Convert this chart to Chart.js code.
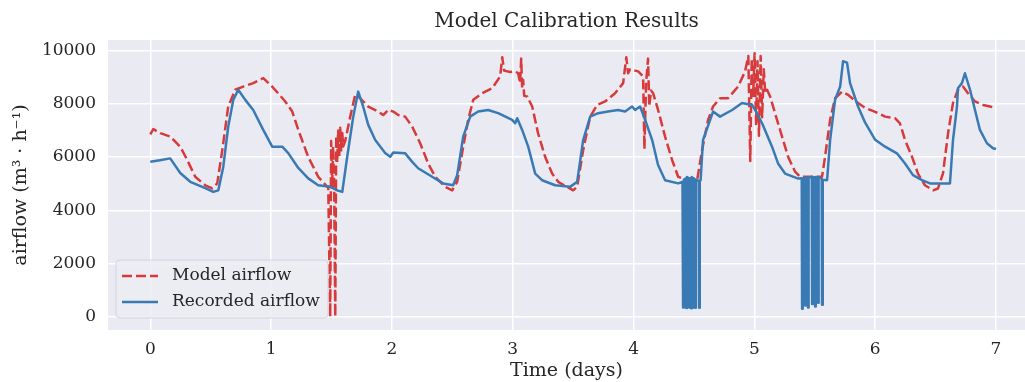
<!DOCTYPE html>
<html>
<head>
<meta charset="utf-8">
<script src="https://cdn.jsdelivr.net/npm/chart.js@4.4.0/dist/chart.umd.min.js"></script>
<style>
  html, body { margin: 0; padding: 0; background: #fff; overflow: hidden; }
  #wrap { width: 1025px; height: 382px; }
</style>
</head>
<body>
<div id="wrap"><canvas id="chart" width="1025" height="382"></canvas></div>
<script>
// ====== data (time in days, airflow in m3/h) ======
const modelTime = [
  0, 0.025, 0.083, 0.165, 0.248, 0.306, 0.372, 0.455, 0.513, 0.554, 0.596, 0.645, 0.703, 0.769, 0.852, 0.935, 1.009,
  1.117, 1.175, 1.225, 1.307, 1.390, 1.465, 1.473, 1.489, 1.497, 1.505, 1.513, 1.522, 1.531, 1.539, 1.547, 1.555,
  1.564, 1.572, 1.580, 1.589, 1.597, 1.613, 1.655, 1.696, 1.738, 1.804, 1.886, 1.928, 1.969, 2.011, 2.052, 2.110,
  2.168, 2.234, 2.300, 2.358, 2.441, 2.499, 2.540, 2.590, 2.631, 2.673, 2.747, 2.830, 2.896, 2.913, 2.929, 2.979,
  3.020, 3.045, 3.061, 3.070, 3.078, 3.086, 3.095, 3.119, 3.161, 3.210, 3.268, 3.326, 3.376, 3.450, 3.500, 3.533,
  3.583, 3.641, 3.699, 3.765, 3.847, 3.914, 3.940, 3.955, 3.972, 4.038, 4.079, 4.090, 4.104, 4.120, 4.130, 4.145,
  4.162, 4.203, 4.261, 4.319, 4.369, 4.443, 4.526, 4.567, 4.617, 4.658, 4.716, 4.782, 4.865, 4.923, 4.950, 4.966,
  4.978, 4.990, 5.002, 5.014, 5.026, 5.038, 5.052, 5.064, 5.078, 5.090, 5.105, 5.130, 5.171, 5.229, 5.279, 5.337,
  5.378, 5.560, 5.585, 5.627, 5.668, 5.726, 5.775, 5.858, 5.916, 6.000, 6.082, 6.164, 6.205, 6.247, 6.305, 6.354,
  6.412, 6.479, 6.520, 6.561, 6.603, 6.644, 6.685, 6.727, 6.768, 6.826, 6.892, 6.950, 7.000
];
const modelFlow = [
  6850, 7050, 6900, 6770, 6390, 5890, 5260, 4940, 4820, 5010, 6260, 7900, 8530, 8650, 8780, 8970, 8650,
  8090, 7710, 7020, 6010, 5260, 4880, 4900, 0, 6600, 4800, 6400, 5000, 0, 6800, 5800, 7000,
  6000, 7100, 6200, 6900, 6400, 6600, 7520, 8340, 8210, 7900, 7710, 7580, 7770, 7710, 7580, 7520,
  7140, 6520, 5760, 5260, 4880, 4750, 5070, 6390, 7400, 8150, 8400, 8590, 9030, 9750, 9250, 9200,
  9220, 9150, 8780, 9700, 8600, 8900, 8300, 8280, 7900, 6890, 6010, 5380, 5070, 4880, 4750, 4880,
  6260, 7520, 7960, 8090, 8400, 8780, 9750, 9150, 9300, 9220, 9030, 6300, 8800, 9700, 7900, 8500,
  8400, 7770, 6770, 5890, 5260, 5130, 5130, 6260, 7400, 7900, 8210, 8210, 8650, 9220, 9800, 5850,
  9700, 8300, 9900, 7200, 9600, 6800, 9800, 7500, 9300, 8400, 8530, 8280, 7650, 6770, 6010, 5450,
  5260, 5260, 6010, 7400, 8210, 8460, 8340, 8030, 7850, 7700, 7520, 7460, 7270, 6640, 6010, 5380,
  4940, 4750, 4820, 5380, 6890, 8030, 8530, 8650, 8400, 8090, 7960, 7900, 7840
];

const recordedTime = [
  0, 0.080, 0.165, 0.248, 0.331, 0.455, 0.521, 0.563, 0.604, 0.645, 0.687, 0.728, 0.786, 0.852, 0.935, 1.009,
  1.092, 1.142, 1.225, 1.307, 1.390, 1.489, 1.547, 1.589, 1.630, 1.680, 1.721, 1.762, 1.804, 1.862, 1.944, 1.986,
  2.011, 2.110, 2.168, 2.217, 2.333, 2.424, 2.507, 2.540, 2.590, 2.648, 2.714, 2.797, 2.879, 2.995, 3.020, 3.037,
  3.078, 3.128, 3.186, 3.243, 3.351, 3.475, 3.533, 3.583, 3.641, 3.707, 3.789, 3.872, 3.930, 3.988, 4.013, 4.054,
  4.096, 4.154, 4.203, 4.261, 4.369, 4.405, 4.410, 4.416, 4.433, 4.436, 4.442, 4.458, 4.461, 4.466, 4.474, 4.477,
  4.482, 4.491, 4.494, 4.499, 4.508, 4.511, 4.516, 4.540, 4.543, 4.548, 4.555, 4.575, 4.658, 4.716, 4.816, 4.898,
  4.981, 5.006, 5.064, 5.146, 5.196, 5.254, 5.362, 5.392, 5.395, 5.400, 5.417, 5.420, 5.425, 5.441, 5.444, 5.449,
  5.475, 5.478, 5.483, 5.500, 5.503, 5.508, 5.524, 5.527, 5.532, 5.557, 5.560, 5.566, 5.602, 5.627, 5.668, 5.710,
  5.734, 5.767, 5.792, 5.858, 5.916, 6.000, 6.082, 6.180, 6.247, 6.313, 6.388, 6.454, 6.619, 6.644, 6.677, 6.685,
  6.718, 6.743, 6.785, 6.826, 6.867, 6.925, 6.975, 7.000
];
const recordedFlow = [
  5820, 5880, 5950, 5400, 5070, 4830, 4690, 4750, 5630, 7140, 8150, 8530, 8150, 7770, 7020, 6390,
  6390, 6150, 5590, 5200, 4940, 4880, 4750, 4690, 6010, 7520, 8460, 7900, 7210, 6640, 6150, 6010,
  6170, 6140, 5820, 5580, 5260, 5010, 4940, 5320, 6770, 7520, 7710, 7770, 7650, 7400, 7270, 7460,
  7020, 6390, 5380, 5130, 4940, 4880, 5070, 6640, 7520, 7650, 7710, 7770, 7710, 7900, 7770, 7900,
  7400, 6640, 5700, 5130, 5010, 5070, 350, 5150, 5200, 330, 5250, 5200, 350, 5200, 5200, 320,
  5250, 5200, 350, 5200, 5150, 340, 5150, 5100, 340, 5100, 5130, 6640, 7710, 7520, 7770, 8030,
  7960, 7770, 7270, 6390, 5760, 5380, 5190, 5200, 300, 5200, 5230, 420, 5230, 5200, 350, 5230,
  5250, 480, 5250, 5230, 380, 5250, 5250, 520, 5230, 5200, 450, 5150, 5130, 6640, 8150, 8650,
  9600, 9550, 8780, 7900, 7300, 6650, 6390, 6140, 5760, 5320, 5130, 5010, 5010, 6640, 7900, 8590,
  8780, 9150, 8530, 7770, 7020, 6520, 6330, 6300
];

const xTicks = [0, 1, 2, 3, 4, 5, 6, 7];
const yTicks = [0, 2000, 4000, 6000, 8000, 10000];
const seriesNames = ['Model airflow', 'Recorded airflow'];

const RED = '#d73a3a';
const BLUE = '#3a7ab4';
const FONT = "'DejaVu Serif', serif";
const TEXT = '#262626';

const toPoints = (xs, ys) => xs.map((x, i) => ({ x, y: ys[i] }));

// legend drawn inside the axes, lower left (matplotlib style)
const innerLegend = {
  id: 'innerLegend',
  afterDatasetsDraw(chart) {
    const { ctx, chartArea } = chart;
    const x0 = chartArea.left + 8, y0 = chartArea.bottom - 70, w = 212, h = 58;
    ctx.save();
    ctx.beginPath();
    ctx.roundRect(x0, y0, w, h, 4);
    ctx.fillStyle = 'rgba(236,236,243,0.85)';
    ctx.fill();
    ctx.strokeStyle = 'rgba(210,210,218,0.9)';
    ctx.lineWidth = 1;
    ctx.stroke();
    ctx.font = '17px ' + FONT;
    ctx.textBaseline = 'middle';
    chart.data.datasets.forEach((ds, i) => {
      const yy = y0 + 16 + i * 26;
      ctx.beginPath();
      ctx.setLineDash(ds.borderDash || []);
      ctx.strokeStyle = ds.borderColor;
      ctx.lineWidth = ds.borderWidth;
      ctx.moveTo(x0 + 6, yy);
      ctx.lineTo(x0 + 42, yy);
      ctx.stroke();
      ctx.setLineDash([]);
      ctx.fillStyle = TEXT;
      ctx.fillText(ds.label, x0 + 56, yy);
    });
    ctx.restore();
  }
};

// seaborn-like axes background
const axesBg = {
  id: 'axesBg',
  beforeDraw(chart) {
    const { ctx, chartArea } = chart;
    ctx.save();
    ctx.fillStyle = '#eaeaf2';
    ctx.fillRect(chartArea.left, chartArea.top, chartArea.right - chartArea.left, chartArea.bottom - chartArea.top);
    ctx.restore();
  }
};

new Chart(document.getElementById('chart'), {
  type: 'line',
  data: {
    datasets: [
      {
        label: seriesNames[0],
        data: toPoints(modelTime, modelFlow),
        borderColor: RED,
        borderWidth: 2.5,
        borderDash: [10, 4],
        borderCapStyle: 'butt',
        borderJoinStyle: 'round',
        pointRadius: 0,
        tension: 0,
        fill: false,
        order: 2
      },
      {
        label: seriesNames[1],
        data: toPoints(recordedTime, recordedFlow),
        borderColor: BLUE,
        borderWidth: 2.5,
        borderCapStyle: 'butt',
        borderJoinStyle: 'round',
        pointRadius: 0,
        tension: 0,
        fill: false,
        order: 1
      }
    ]
  },
  options: {
    responsive: false,
    animation: false,
    layout: { padding: { left: 0, right: 0, top: 0, bottom: 0 } },
    plugins: {
      legend: { display: false },
      tooltip: { enabled: false },
      title: {
        display: true,
        fullSize: false,
        text: 'Model Calibration Results',
        color: TEXT,
        font: { family: FONT, size: 20, weight: 'normal' },
        padding: { top: 10, bottom: 6 }
      }
    },
    scales: {
      x: {
        type: 'linear',
        min: -0.35,
        max: 7.24,
        afterBuildTicks: s => { s.ticks = xTicks.map(v => ({ value: v })); },
        afterFit: s => { s.height = 52; },
        border: { display: false },
        grid: { color: '#ffffff', lineWidth: 1.5, drawTicks: false },
        ticks: { color: TEXT, font: { family: FONT, size: 17 }, padding: 9, callback: v => String(v) },
        title: { display: true, text: 'Time (days)', color: TEXT, font: { family: FONT, size: 19 }, padding: { top: 0, bottom: 0 } }
      },
      y: {
        min: -500,
        max: 10400,
        afterBuildTicks: s => { s.ticks = yTicks.map(v => ({ value: v })); },
        afterFit: s => { s.width = 108; },
        border: { display: false },
        grid: { color: '#ffffff', lineWidth: 1.5, drawTicks: false },
        ticks: { color: TEXT, font: { family: FONT, size: 17 }, padding: 12, callback: v => String(v) },
        title: { display: true, text: 'airflow (m³ · h⁻¹)', color: TEXT, font: { family: FONT, size: 19 }, padding: { top: 10, bottom: 0 } }
      }
    }
  },
  plugins: [axesBg, innerLegend]
});
</script>
</body>
</html>
